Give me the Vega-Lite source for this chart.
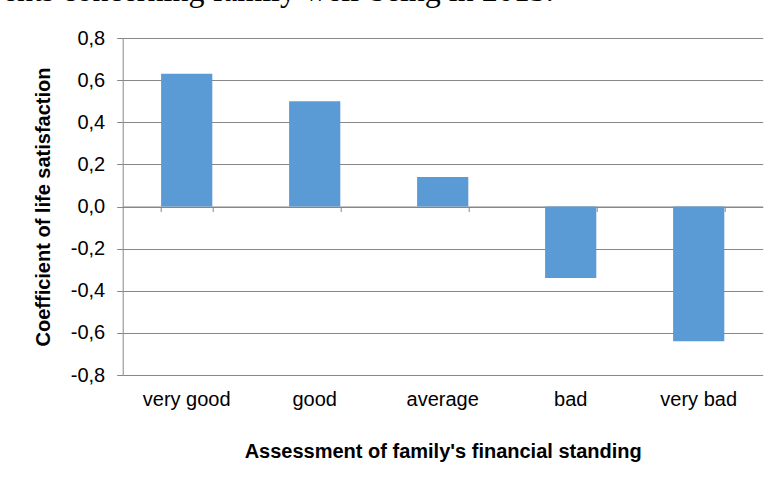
{
  "$schema": "https://vega.github.io/schema/vega-lite/v6.json",
  "autosize": {"type": "none"},
  "width": 640,
  "height": 337,
  "padding": {"left": 122.7, "top": 38, "right": 16.3, "bottom": 108},
  "background": "white",
  "config": {
    "locale": {"number": {"decimal": ",", "thousands": ".", "grouping": [3], "currency": ["", " €"], "minus": "-"}},
    "view": {"stroke": null},
    "font": "Liberation Sans"
  },
  "title": {
    "text": "ents concerning family well-being in 2013.",
    "font": "Liberation Serif",
    "fontSize": 32,
    "fontWeight": "normal",
    "color": "black",
    "anchor": "start",
    "frame": "group",
    "baseline": "alphabetic",
    "dx": -120,
    "dy": 5,
    "offset": 0
  },
  "data": {
    "values": [
      {"category": "very good", "value": 0.63},
      {"category": "good", "value": 0.50},
      {"category": "average", "value": 0.14},
      {"category": "bad", "value": -0.34},
      {"category": "very bad", "value": -0.64}
    ]
  },
  "layer": [
    {
      "mark": {"type": "bar", "color": "#5B9BD5"},
      "encoding": {
        "x": {
          "field": "category", "type": "nominal", "sort": null,
          "scale": {"paddingInner": 0.6, "paddingOuter": 0.3},
          "axis": {
            "orient": "bottom",
            "title": "Assessment of family's financial standing",
            "titleFontWeight": "bold", "titleFontSize": 20, "titleColor": "black", "titlePadding": 32,
            "labelFontSize": 20, "labelAngle": 0, "labelPadding": 14, "labelColor": "black",
            "domain": false, "ticks": false, "grid": false
          }
        },
        "y": {
          "field": "value", "type": "quantitative",
          "scale": {"domain": [-0.8, 0.8], "nice": false},
          "axis": {
            "values": [-0.8, -0.6, -0.4, -0.2, 0, 0.2, 0.4, 0.6, 0.8],
            "format": ".1f",
            "title": "Coefficient of life satisfaction",
            "titleFontWeight": "bold", "titleFontSize": 20, "titleColor": "black", "titlePadding": 17,
            "labelFontSize": 20, "labelColor": "black", "labelPadding": 12,
            "tickSize": 6, "tickColor": "#878787", "domainColor": "#878787", "gridColor": "#878787",
            "grid": true
          }
        }
      }
    },
    {
      "mark": {"type": "bar", "opacity": 0},
      "encoding": {
        "x": {
          "field": "category", "type": "nominal", "sort": null,
          "axis": {
            "orient": "bottom", "offset": -168.5, "labels": false, "title": null,
            "tickBand": "extent", "domainColor": "#878787", "tickColor": "#878787", "tickSize": 5, "grid": false
          }
        },
        "y": {"field": "value", "type": "quantitative"}
      }
    }
  ],
  "resolve": {"axis": {"x": "independent"}}
}
